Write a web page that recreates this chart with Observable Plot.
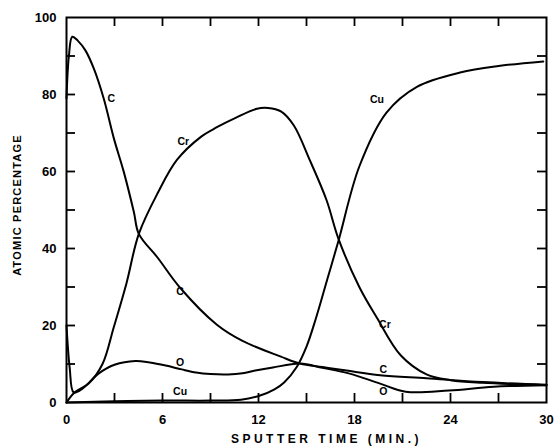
<!DOCTYPE html>
<html><head><meta charset="utf-8">
<script src="https://cdn.jsdelivr.net/npm/d3@7"></script>
<script src="https://cdn.jsdelivr.net/npm/@observablehq/plot@0.6"></script>
<style>
body{margin:0;background:#fff}
</style>
</head><body><div id="chart"></div>
<script>
// Sputter time (min) and atomic percentage for each element
const cTime  = [0, 0.15, 0.36, 0.7, 1.19, 1.71, 2.33, 2.96, 3.58, 4.21, 4.52, 5.7, 7.1, 9.4, 11.0, 13.4, 14.6, 16.0, 17.5, 19.6, 22.5, 26.0, 30];
const cPct   = [79, 90, 95, 94, 91.4, 86.7, 78.9, 68.6, 59.9, 49.5, 43.8, 37.6, 29.8, 20.2, 16.0, 11.9, 10.1, 9.2, 8.3, 7.1, 6.3, 5.3, 4.6];

const crTime = [0, 0.5, 1.4, 2.25, 2.95, 3.75, 4.52, 5.7, 6.9, 8.4, 9.4, 10.6, 11.9, 12.6, 13.4, 14.2, 15.2, 16.25, 17.0, 18.3, 19.4, 20.9, 22.5, 24.0, 26.0, 30];
const crPct  = [0, 2.6, 5, 10, 19.5, 31, 43.8, 54.4, 63, 69, 71.5, 74, 76.3, 76.5, 75.6, 72, 63, 52.6, 42.5, 30, 22, 12.2, 7.3, 5.8, 5.1, 4.5];

const cuTime = [0, 3, 6, 9, 10.9, 12.1, 13.0, 13.6, 14.4, 15.0, 15.6, 16.3, 17.0, 18.3, 20.0, 21.9, 24.6, 27.0, 29.8];
const cuPct  = [0, 0.3, 0.5, 0.5, 0.7, 1.8, 3.4, 5.2, 9.3, 14.5, 22, 32, 42, 61.3, 75.3, 82, 85.7, 87.4, 88.6];

const oTime  = [0, 0.2, 0.45, 1.0, 2.0, 3.0, 4.3, 5.2, 6.2, 7.2, 8.1, 9.0, 10.1, 11.0, 11.8, 12.9, 14.6, 16.0, 17.7, 19.6, 21.2, 23.9, 26.7, 30];
const oPct   = [20, 9, 2.6, 3.6, 7.5, 9.8, 10.8, 10.4, 9.6, 8.6, 7.8, 7.4, 7.3, 7.6, 8.3, 9.1, 10.1, 9.0, 7.5, 4.9, 2.8, 3.1, 4.1, 4.5];

// Curve labels as printed on the chart
const labelText = ["C", "Cr", "Cu", "C", "O", "Cu", "Cr", "C", "O"];
const labelTime = [2.8, 7.3, 19.4, 7.1, 7.1, 7.1, 19.9, 19.8, 19.8];
const labelPct  = [79, 67.8, 78.7, 28.8, 10.4, 2.8, 20.2, 8.5, 2.8];

// Tick values
const xTickLabels = [0, 6, 12, 18, 24, 30];
const xTicks = d3.range(3, 30, 3);
const yTickLabels = [0, 20, 40, 60, 80, 100];
const yTicks = d3.range(10, 100, 10);

const xTitle = "SPUTTER TIME (MIN.)";
const yTitle = "ATOMIC PERCENTAGE";

const rows = [
  ...d3.zip(cTime, cPct).map(([t, p]) => ({el: "C", t, p})),
  ...d3.zip(crTime, crPct).map(([t, p]) => ({el: "Cr", t, p})),
  ...d3.zip(cuTime, cuPct).map(([t, p]) => ({el: "Cu", t, p})),
  ...d3.zip(oTime, oPct).map(([t, p]) => ({el: "O", t, p}))
];
const labels = labelText.map((s, i) => ({s, t: labelTime[i], p: labelPct[i]}));

const W = 556, H = 446, mL = 66, mR = 10, mT = 17, mB = 44;
const tickLen = 9;

const chart = Plot.plot({
  width: W, height: H,
  marginLeft: mL, marginRight: mR, marginTop: mT, marginBottom: mB,
  x: {domain: [0, 30]},
  y: {domain: [0, 100]},
  style: {fontFamily: "Liberation Sans, Arial, sans-serif", fontSize: "11px", fontWeight: "bold", color: "#000", background: "#fff"},
  marks: [
    Plot.frame({strokeWidth: 2, stroke: "#000", fill: "none"}),
    Plot.axisX(xTickLabels, {anchor: "bottom", tickSize: 0, tickPadding: 12, label: null, fontSize: 13}),
    Plot.axisY(yTickLabels, {anchor: "left", tickSize: 0, tickPadding: 10, label: null, fontSize: 13}),
    Plot.ruleX(xTicks, {x: d => d, y1: 0, y2: 0, insetTop: -tickLen, stroke: "#000", strokeWidth: 1.8}),
    Plot.ruleX(xTicks, {x: d => d, y1: 100, y2: 100, insetBottom: -tickLen, stroke: "#000", strokeWidth: 1.8}),
    Plot.ruleY(yTicks, {y: d => d, x1: 0, x2: 0, insetRight: -tickLen, stroke: "#000", strokeWidth: 1.8}),
    Plot.ruleY(yTicks, {y: d => d, x1: 30, x2: 30, insetLeft: -tickLen, stroke: "#000", strokeWidth: 1.8}),
    Plot.line(rows, {x: "t", y: "p", z: "el", curve: "catmull-rom", stroke: "#000", strokeWidth: 2}),
    Plot.text(labels, {x: "t", y: "p", text: "s", fontSize: 10.5, fontWeight: "bold", fill: "#000"}),
    Plot.text([xTitle], {frameAnchor: "bottom", textAnchor: "middle", dy: 40, dx: 20, fontSize: 12, fontWeight: "bold"}),
    Plot.text([yTitle], {frameAnchor: "left", textAnchor: "middle", rotate: -90, dx: -49, dy: -5, fontSize: 11, fontWeight: "bold"})
  ]
});
chart.querySelectorAll("text").forEach(t => {
  if (t.textContent === xTitle) t.style.letterSpacing = "3.5px";
  if (t.textContent === yTitle) t.style.letterSpacing = "1.2px";
});
document.getElementById("chart").append(chart);
</script>
</body></html>
